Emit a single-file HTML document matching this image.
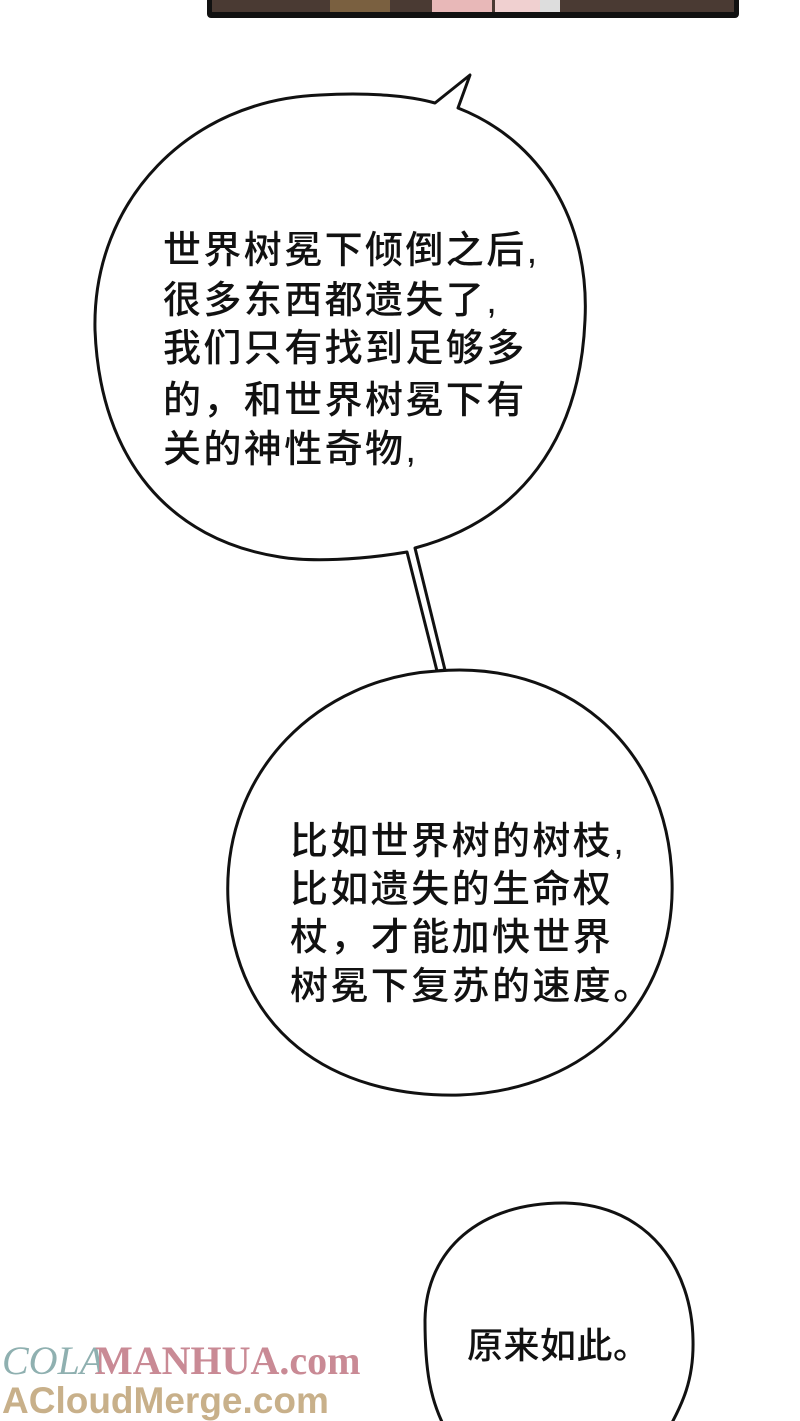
<!DOCTYPE html>
<html><head><meta charset="utf-8"><style>
body{margin:0;background:#fff;}
svg{display:block}
text{font-family:"Liberation Sans","Noto Sans CJK SC",sans-serif;font-size:38px;font-weight:500;fill:#111;letter-spacing:2.4px}
</style></head><body>
<svg width="800" height="1421" viewBox="0 0 800 1421" xmlns="http://www.w3.org/2000/svg">
<rect width="800" height="1421" fill="#fff"/>
<rect x="207" y="-5" width="532" height="23" rx="4" fill="#111"/>
<rect x="212" y="-5" width="522" height="17" fill="#4a3a33"/>
<rect x="330" y="-5" width="60" height="17" fill="#7a6040"/>
<rect x="432" y="-5" width="60" height="17" fill="#e8b8b8"/>
<rect x="495" y="-5" width="45" height="17" fill="#f0d0d0"/>
<rect x="540" y="-5" width="20" height="17" fill="#ddd"/>
<g fill="#fff" stroke="#111" stroke-width="3" stroke-linejoin="round">
<path d="M435,103 L470,75 L458,108 C540,140 590,220 585,320 C580,440 520,520 415,548 L445,670 L437,671 L407,552 C360,560 310,562 280,557 C170,540 100,460 95,330 C92,200 190,100 320,95 C370,92 410,96 435,103 Z"/>
<path d="M437,671 C560,660 668,740 672,880 C676,1000 590,1090 460,1095 C330,1098 235,1030 228,900 C222,770 320,678 437,671 Z"/>
<path d="M565,1203 C650,1205 692,1270 693,1340 C694,1380 682,1405 668,1430 L446,1430 C430,1400 425,1370 425,1320 C426,1250 480,1202 565,1203 Z"/>
</g>
<text x="163" y="263">世界树冕下倾倒之后,</text>
<text x="163" y="313">很多东西都遗失了,</text>
<text x="163" y="361">我们只有找到足够多</text>
<text x="163" y="413">的，和世界树冕下有</text>
<text x="163" y="462">关的神性奇物,</text>
<text x="290" y="854">比如世界树的树枝,</text>
<text x="290" y="902">比如遗失的生命权</text>
<text x="290" y="950">杖，才能加快世界</text>
<text x="290" y="999">树冕下复苏的速度。</text>
<text x="467" y="1358" style="font-size:36px;letter-spacing:0.5px">原来如此。</text>
<text x="2" y="1374" style="font-family:'Liberation Serif',serif;font-size:40px;font-style:italic;font-weight:normal;fill:#8fb0b0;letter-spacing:0">COLA</text>
<text x="95" y="1374" style="font-family:'Liberation Serif',serif;font-size:40px;font-weight:bold;fill:#c98a95;letter-spacing:0">MANHUA.com</text>
<text x="2" y="1413" style="font-family:'Liberation Sans',sans-serif;font-size:37px;font-weight:bold;fill:#c8b08a;letter-spacing:0">ACloudMerge.com</text>
</svg>
</body></html>
